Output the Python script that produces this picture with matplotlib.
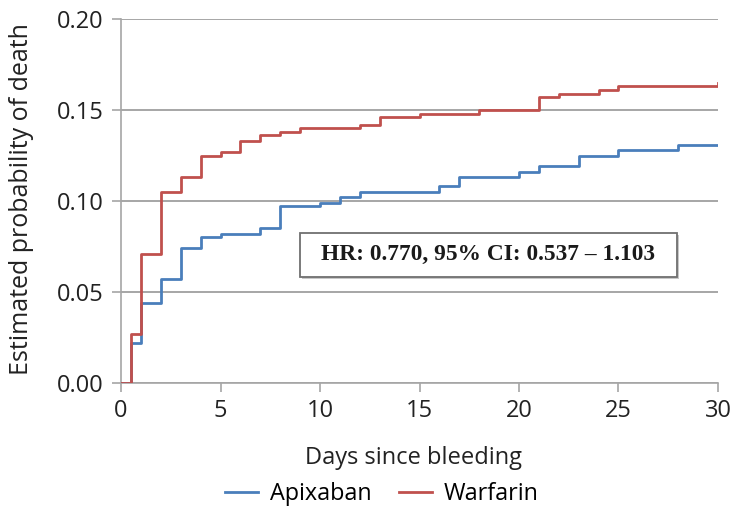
import matplotlib.pyplot as plt
from matplotlib.patches import Rectangle

# Kaplan-Meier style cumulative mortality after bleeding
apixaban_days = [0, 0.5, 1, 2, 3, 4, 5, 7, 8, 10, 11, 12, 16, 17, 20, 21, 23, 25, 28, 30]
apixaban_prob = [0, 0.022, 0.044, 0.057, 0.074, 0.080, 0.082, 0.085, 0.097, 0.099,
                 0.102, 0.105, 0.108, 0.113, 0.116, 0.119, 0.125, 0.128, 0.131, 0.131]

warfarin_days = [0, 0.5, 1, 2, 3, 4, 5, 6, 7, 8, 9, 12, 13, 15, 18, 21, 22, 24, 25, 30]
warfarin_prob = [0, 0.027, 0.071, 0.105, 0.113, 0.125, 0.127, 0.133, 0.136, 0.138,
                 0.140, 0.142, 0.146, 0.148, 0.150, 0.157, 0.159, 0.161, 0.163, 0.165]

x_ticks = [0, 5, 10, 15, 20, 25, 30]
y_ticks = [0.00, 0.05, 0.10, 0.15, 0.20]
hr_text = "HR: 0.770, 95% CI: 0.537 \u2013 1.103"

plt.rcParams['font.family'] = ['Open Sans', 'DejaVu Sans']

blue = '#4a7ebb'
red = '#c0504d'
grid_gray = '#a6a6a6'
text_col = '#222222'

fig = plt.figure(figsize=(7.37, 5.17), dpi=100)
ax = fig.add_axes([0.1642, 0.2592, 0.81, 0.704])

ax.step(apixaban_days, apixaban_prob, where='post', color=blue, lw=2.0,
        label='Apixaban', zorder=3)
ax.step(warfarin_days, warfarin_prob, where='post', color=red, lw=2.0,
        label='Warfarin', zorder=3)

ax.set_xlim(0, 30)
ax.set_ylim(0, 0.20)
ax.set_xticks(x_ticks)
ax.set_yticks(y_ticks)
ax.set_yticklabels([f'{v:.2f}' for v in y_ticks])
ax.yaxis.grid(True, color=grid_gray, lw=1.4)
ax.set_axisbelow(True)

for side in ['top', 'right']:
    ax.spines[side].set_visible(False)
for side in ['left', 'bottom']:
    ax.spines[side].set_color(grid_gray)
    ax.spines[side].set_linewidth(1.2)

ax.tick_params(axis='both', colors=grid_gray, length=6.5, width=1.2,
               labelsize=17, labelcolor=text_col)
ax.tick_params(axis='x', pad=5)
ax.tick_params(axis='y', pad=6)

ax.set_xlabel('Days since bleeding', fontsize=17, color=text_col)
ax.xaxis.set_label_coords(0.49, -0.172)
ax.set_ylabel('Estimated probability of death', fontsize=18, color=text_col)
ax.yaxis.set_label_coords(-0.146, 0.505)

# hazard ratio box with a soft drop shadow
x0, x1, y0, y1 = 0.2998, 0.9313, 0.292, 0.413
shadow = Rectangle((x0 + 0.004, y0 - 0.006), x1 - x0, y1 - y0, transform=ax.transAxes,
                   facecolor='#c8c8c8', edgecolor='none', zorder=4)
box = Rectangle((x0, y0), x1 - x0, y1 - y0, transform=ax.transAxes,
                facecolor='white', edgecolor='#707070', lw=1.3, zorder=5)
ax.add_patch(shadow)
ax.add_patch(box)
ax.text((x0 + x1) / 2, (y0 + y1) / 2, hr_text, transform=ax.transAxes,
        ha='center', va='center', fontsize=16.8, fontweight='bold',
        family=['Liberation Serif', 'DejaVu Serif'], color='#1a1a1a', zorder=6)

fig.legend(loc='center', bbox_to_anchor=(0.518, 0.045), ncol=2, frameon=False,
           fontsize=16.8, handlelength=1.4, columnspacing=1.2, handletextpad=0.5)

fig.savefig('out.png', dpi=100)
